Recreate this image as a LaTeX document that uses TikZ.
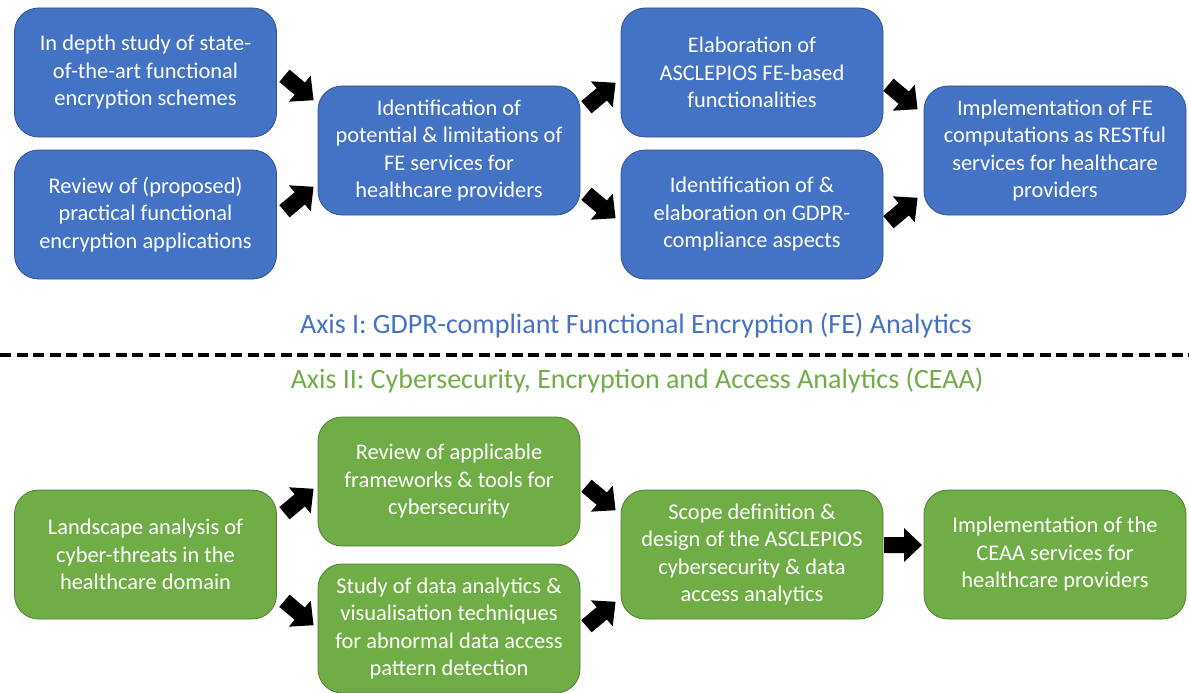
\documentclass[tikz,border=0pt]{standalone}
\usepackage{fontspec}
\setmainfont{Carlito}
\definecolor{bluefill}{HTML}{4472C4}
\definecolor{blueedge}{HTML}{2F528F}
\definecolor{greenfill}{HTML}{70AD47}
\definecolor{greenedge}{HTML}{507E32}
\tikzset{
  box/.style={rounded corners=24pt, minimum width=262pt, minimum height=129pt,
    text=white, align=center, inner sep=0pt, line width=0.8pt,
    font=\fontsize{22.4}{27.5}\selectfont},
  bluebox/.style={box, fill=bluefill, draw=blueedge},
  greenbox/.style={box, fill=greenfill, draw=greenedge},
  blockarrow/.pic={\fill[black] (-19,-8) -- (1,-8) -- (1,-17) -- (19,0) -- (1,17) -- (1,8) -- (-19,8) -- cycle;},
  axislabel/.style={font=\fontsize{28}{32}\selectfont, inner sep=0pt}
}
\begin{document}
\begin{tikzpicture}[x=1pt,y=-1pt]
\useasboundingbox (0,0) rectangle (1189,693);
% blue axis
\node[bluebox] (b1) at (145.5,72.5) {In depth study of state-\\of-the-art functional\\encryption schemes};
\node[bluebox] (b2) at (145.5,214.5) {Review of (proposed)\\practical functional\\encryption applications};
\node[bluebox] (b3) at (449,150.5) {Identification of\\potential \& limitations of\\FE services for\\healthcare providers};
\node[bluebox] (b4) at (752,72.5) {Elaboration of\\ASCLEPIOS FE-based\\functionalities};
\node[bluebox] (b5) at (752,214.5) {Identification of \&\\elaboration on GDPR-\\compliance aspects};
\node[bluebox] (b6) at (1055,150.5) {Implementation of FE\\computations as RESTful\\services for healthcare\\providers};
% blue arrows
\pic[rotate=-40] at (299,88) {blockarrow};
\pic[rotate=40] at (299,199) {blockarrow};
\pic[rotate=40] at (601,95) {blockarrow};
\pic[rotate=-40] at (601,206) {blockarrow};
\pic[rotate=-40] at (903,97) {blockarrow};
\pic[rotate=40] at (903,210) {blockarrow};
% axis labels and separator
\node[axislabel, text=bluefill] (ax1) at (636,326) {Axis I: GDPR-compliant Functional Encryption (FE) Analytics};
\node[axislabel, text=greenfill] (ax2) at (637,381) {Axis II: Cybersecurity, Encryption and Access Analytics (CEAA)};
\coordinate (sepL) at (0,355);
\coordinate (sepR) at (1189,355);
\draw[line width=3.5pt, dash pattern=on 11pt off 5.5pt] (sepL) -- (sepR);
% green axis
\node[greenbox] (g1) at (145.5,554.5) {Landscape analysis of\\cyber-threats in the\\healthcare domain};
\node[greenbox] (g2) at (449,481.5) {Review of applicable\\frameworks \& tools for\\cybersecurity};
\node[greenbox] (g3) at (449,628.5) {Study of data analytics \&\\visualisation techniques\\for abnormal data access\\pattern detection};
\node[greenbox] (g4) at (752,554.5) {Scope definition \&\\design of the ASCLEPIOS\\cybersecurity \& data\\access analytics};
\node[greenbox] (g5) at (1055,554.5) {Implementation of the\\CEAA services for\\healthcare providers};
% green arrows
\pic[rotate=40] at (299,501) {blockarrow};
\pic[rotate=-40] at (299,613) {blockarrow};
\pic[rotate=-40] at (601,498) {blockarrow};
\pic[rotate=40] at (601,614) {blockarrow};
\pic[rotate=0] at (903,545) {blockarrow};
\end{tikzpicture}
\end{document}
